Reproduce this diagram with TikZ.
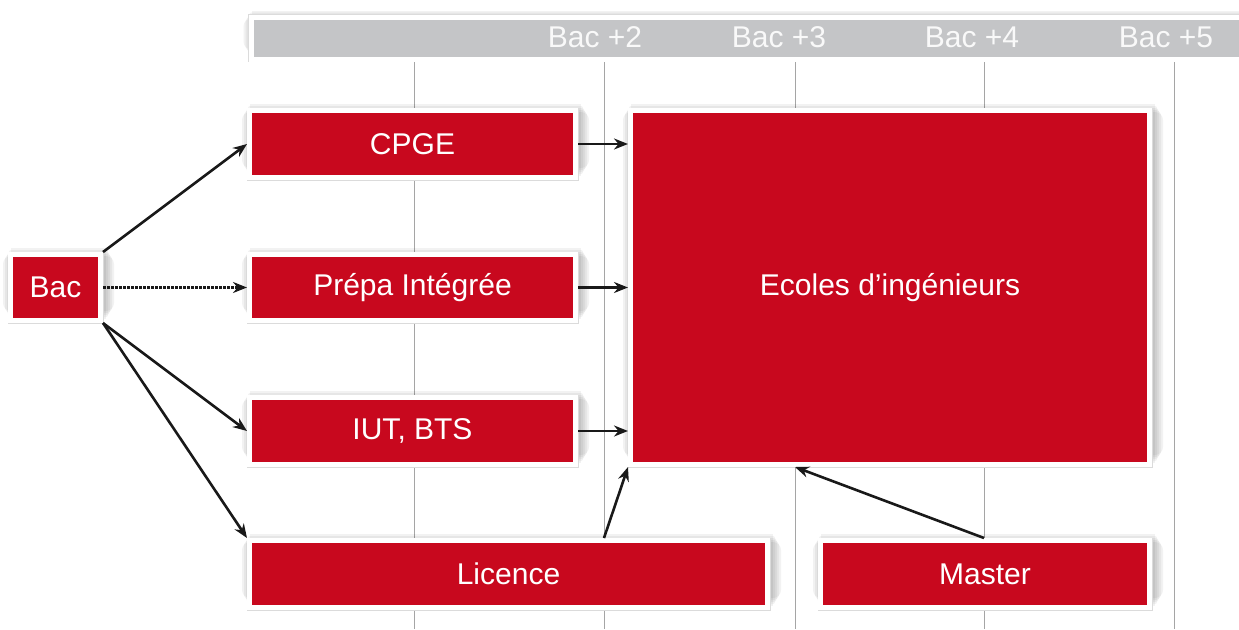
\documentclass[tikz,border=0pt]{standalone}
\usepackage{fontspec}
\setmainfont{Liberation Sans}
\usetikzlibrary{arrows.meta,calc}
\definecolor{boxred}{RGB}{200,8,30}
\definecolor{bargray}{RGB}{196,197,199}
\definecolor{gridgray}{RGB}{165,165,165}
\pgfdeclarelayer{gridlayer}
\pgfdeclarelayer{shadowlayer}
\pgfsetlayers{gridlayer,shadowlayer,main}
\tikzset{
  box/.style={fill=boxred, draw=white, line width=5pt, inner sep=0pt,
    text=white, font=\fontsize{30}{36}\selectfont},
  arr/.style={line width=2.6pt, draw=black!90, -{Stealth[length=14pt,width=11pt]}},
  gridline/.style={draw=gridgray, line width=0.9pt},
  hdr/.style={text=white!95!gray, font=\fontsize{30}{36}\selectfont, inner sep=0pt},
  shadowpiece/.style={fill=black, opacity=0.05}
}
\newcommand{\softshadow}[1]{%
  \begin{pgfonlayer}{shadowlayer}
  \foreach \r in {8,6,4,2,0}{
    \fill[shadowpiece, rounded corners=\r pt]
      ($(#1.north west)+(3-\r,-4+\r)$) rectangle ($(#1.south east)+(3+\r,-4-\r)$);
  }
  \draw[black!14, line width=0.7pt] (#1.north west) rectangle (#1.south east);
  \end{pgfonlayer}}
\begin{document}
\begin{tikzpicture}[x=1pt,y=-1pt]
\useasboundingbox (0,0) rectangle (1239,629);
% grid line references
\coordinate (g1) at (414,0);
\coordinate (g2) at (604,0);
\coordinate (g3) at (795,0);
\coordinate (g4) at (984,0);
\coordinate (g5) at (1174,0);
\begin{pgfonlayer}{gridlayer}
\foreach \g in {g1,g2,g3,g4,g5}{
  \draw[gridline] ($(\g)+(0,60)$) -- ($(\g)+(0,629)$);
}
\end{pgfonlayer}
% header bar
\node[fill=bargray, draw=white, line width=5pt, inner sep=0pt, minimum width=1000pt, minimum height=42pt, anchor=north west] (bar) at (248.5,14.5) {};
\softshadow{bar}
\node[hdr] (b2) at (595,37) {Bac +2};
\node[hdr] (b3) at (779,37) {Bac +3};
\node[hdr] (b4) at (972,37) {Bac +4};
\node[hdr] (b5) at (1166,37) {Bac +5};
% boxes
\node[box, minimum width=90pt, minimum height=66pt] (bac) at (55.5,287.5) {Bac};
\node[box, minimum width=326pt, minimum height=67pt] (cpge) at (412.5,144) {CPGE};
\node[box, minimum width=326pt, minimum height=66pt] (prepa) at (412.5,287.5) {Prépa Intégrée};
\node[box, minimum width=326pt, minimum height=67pt] (iut) at (412.5,431) {IUT, BTS};
\node[box, minimum width=518pt, minimum height=67pt] (licence) at (508.5,574) {Licence};
\node[box, minimum width=329pt, minimum height=67pt] (master) at (985,574) {Master};
\node[box, minimum width=519pt, minimum height=354pt] (ecoles) at (890,287.5) {Ecoles d’ingénieurs};
\softshadow{bac}
\softshadow{cpge}
\softshadow{prepa}
\softshadow{iut}
\softshadow{licence}
\softshadow{master}
\softshadow{ecoles}
% connectors
\draw[arr] (bac.north east) -- (cpge.west);
\draw[arr, dash pattern=on 3pt off 1pt] (bac.east) -- (prepa.west);
\draw[arr] (bac.south east) -- (iut.west);
\draw[arr] (bac.south east) -- (licence.north west);
\draw[arr] (cpge.east) -- (cpge.east -| ecoles.west);
\draw[arr] (prepa.east) -- (prepa.east -| ecoles.west);
\draw[arr] (iut.east) -- (iut.east -| ecoles.west);
\draw[arr] (licence.north -| g2) -- (ecoles.south west);
\draw[arr] (master.north -| g4) -- (ecoles.south -| g3);
\end{tikzpicture}
\end{document}
